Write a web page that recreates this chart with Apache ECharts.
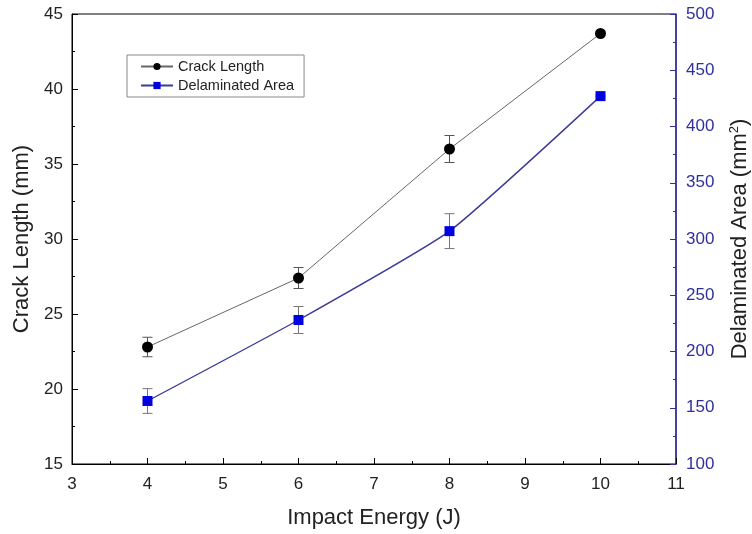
<!DOCTYPE html>
<html>
<head>
<meta charset="utf-8">
<script src="https://cdn.jsdelivr.net/npm/echarts@6/dist/echarts.min.js"></script>
<style>
    html, body { margin: 0; padding: 0; background: #fff; }
    #chart { width: 752px; height: 534px; }
</style>
</head>
<body>
<div id="chart"></div>
<script>
    // data
    const energy = [4, 6, 8, 10];
    const crackLength = [22.8, 27.4, 36.0, 43.7];
    const crackErr = [0.65, 0.7, 0.9, 0];
    const delamArea = [156, 228, 307, 427];
    const delamErr = [11, 12, 15.5, 0];

    const FONT = 'Liberation Sans, Arial, sans-serif';
    const BLUE = '#0000e0';
    const BLUE_AXIS = '#2f2fa0';

    const chart = echarts.init(document.getElementById('chart'));

    // error bar drawer
    function errorBars(values, errs, yIndex, color) {
        return {
            type: 'custom',
            yAxisIndex: yIndex,
            z: 1,
            silent: true,
            data: energy.map((x, i) => [x, values[i] - errs[i], values[i] + errs[i]]),
            renderItem: function (params, api) {
                const lo = api.coord([api.value(0), api.value(1)]);
                const hi = api.coord([api.value(0), api.value(2)]);
                const w = 5;
                const style = { stroke: color, lineWidth: 1 };
                return {
                    type: 'group',
                    children: [
                        { type: 'line', shape: { x1: lo[0], y1: lo[1], x2: hi[0], y2: hi[1] }, style: style },
                        { type: 'line', shape: { x1: lo[0] - w, y1: lo[1], x2: lo[0] + w, y2: lo[1] }, style: style },
                        { type: 'line', shape: { x1: hi[0] - w, y1: hi[1], x2: hi[0] + w, y2: hi[1] }, style: style }
                    ]
                };
            }
        };
    }

    const option = {
        animation: false,
        textStyle: { fontFamily: FONT },
        grid: {
            left: 72, right: 76, top: 14, bottom: 70,
            outerBoundsMode: 'none',
            show: true, borderColor: '#000', borderWidth: 1
        },
        legend: {
            data: ['Crack Length', 'Delaminated Area'],
            orient: 'vertical',
            left: 127, top: 55,
            itemWidth: 32, itemHeight: 9, itemGap: 4,
            padding: [4, 10, 4, 13],
            borderColor: '#888', borderWidth: 1,
            textStyle: { fontFamily: FONT, fontSize: 14.5, color: '#222' }
        },
        xAxis: {
            type: 'value',
            min: 3, max: 11, interval: 1,
            name: 'Impact Energy (J)',
            nameLocation: 'middle', nameGap: 43,
            nameTextStyle: { fontFamily: FONT, fontSize: 22, color: '#222' },
            axisLine: { lineStyle: { color: '#000', width: 1 } },
            axisTick: { inside: true, length: 6, lineStyle: { color: '#000' } },
            minorTick: { show: true, splitNumber: 2, length: 3, lineStyle: { color: '#000' } },
            splitLine: { show: false },
            axisLabel: { fontFamily: FONT, fontSize: 17, color: '#222', margin: 12 }
        },
        yAxis: [
            {
                type: 'value',
                min: 15, max: 45, interval: 5,
                name: 'Crack Length (mm)',
                nameLocation: 'middle', nameGap: 39,
                nameTextStyle: { fontFamily: FONT, fontSize: 22, color: '#222' },
                axisLine: { show: true, lineStyle: { color: '#000', width: 1 } },
                axisTick: { inside: true, length: 6, lineStyle: { color: '#000' } },
                minorTick: { show: true, splitNumber: 2, length: 3, lineStyle: { color: '#000' } },
                splitLine: { show: false },
                axisLabel: { fontFamily: FONT, fontSize: 17, color: '#222', margin: 9 }
            },
            {
                type: 'value',
                position: 'right',
                min: 100, max: 500, interval: 50,
                name: '{a|Delaminated Area (mm}{s|2}{a|)}',
                nameLocation: 'middle', nameGap: 52,
                nameTextStyle: {
                    rich: {
                        a: { fontFamily: FONT, fontSize: 22, color: '#222' },
                        s: { fontFamily: FONT, fontSize: 13, color: '#222', padding: [0, 0, 11, 0] }
                    }
                },
                axisLine: { show: true, lineStyle: { color: BLUE_AXIS, width: 1.5 } },
                axisTick: { inside: true, length: 6, lineStyle: { color: BLUE_AXIS } },
                minorTick: { show: true, splitNumber: 2, length: 3, lineStyle: { color: BLUE_AXIS } },
                splitLine: { show: false },
                axisLabel: { fontFamily: FONT, fontSize: 17, color: BLUE_AXIS, margin: 10 }
            }
        ],
        series: [
            errorBars(crackLength, crackErr, 0, '#555'),
            errorBars(delamArea, delamErr, 1, '#777'),
            {
                name: 'Crack Length',
                type: 'line',
                yAxisIndex: 0,
                z: 3,
                data: energy.map((x, i) => [x, crackLength[i]]),
                symbol: 'circle',
                symbolSize: 11,
                itemStyle: { color: '#000' },
                lineStyle: { color: '#666', width: 1 }
            },
            {
                name: 'Delaminated Area',
                type: 'line',
                yAxisIndex: 1,
                z: 3,
                smooth: 0.15,
                data: energy.map((x, i) => [x, delamArea[i]]),
                symbol: 'rect',
                symbolSize: 10,
                itemStyle: { color: BLUE },
                lineStyle: { color: '#3b3b9a', width: 1.4 }
            }
        ]
    };
    chart.setOption(option);

    window.onresize = function () {
        chart.resize();
    };
</script>
</body>
</html>
